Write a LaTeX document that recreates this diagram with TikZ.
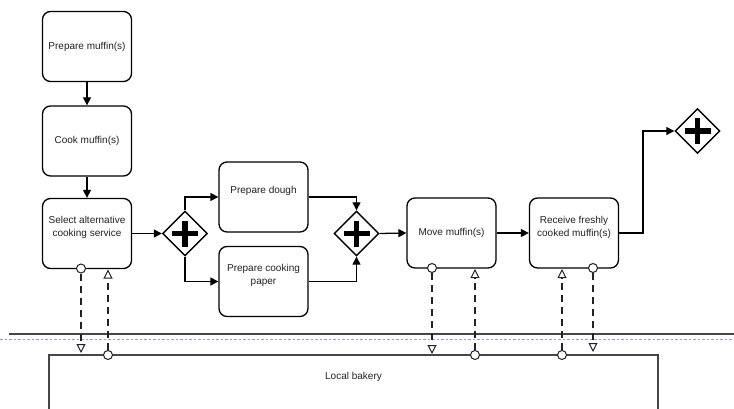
\documentclass[tikz,border=0pt]{standalone}
\usepackage{fontspec}
\setmainfont{Liberation Sans}
\usetikzlibrary{shapes.geometric,arrows.meta}
\definecolor{ink}{RGB}{34,34,34}
\definecolor{poolgray}{RGB}{70,70,70}
\definecolor{pagebreak}{RGB}{150,150,255}
\begin{document}
\begin{tikzpicture}[x=1pt,y=-1pt,
  font=\fontsize{10}{13}\selectfont,
  task/.style={draw=black, line width=1.3pt, rounded corners=8pt, minimum width=89pt, minimum height=70pt, inner sep=0pt, fill=white},
  lbl/.style={align=center, text=ink, inner sep=0pt, font=\fontsize{10}{13}\selectfont},
  gw/.style={diamond, draw=black, line width=1.4pt, minimum width=45pt, minimum height=45pt, inner sep=0pt, fill=white,
    path picture={\draw[line width=5.5pt] (path picture bounding box.center) +(-13,0) -- +(13,0) +(0,-13) -- +(0,13);}},
  flow/.style={draw=black, line width=1.3pt, -{Triangle[length=8pt,width=8pt]}},
  msg/.style={draw=ink, line width=1.1pt, dash pattern=on 7pt off 5pt, -{Triangle[open,length=9pt,width=9pt,line width=1pt]}},
  port/.style={circle, draw=ink, fill=white, line width=1pt, minimum size=9pt, inner sep=0pt},
  pool/.style={draw=poolgray, line width=2pt},
  bakery/.style={draw=poolgray, line width=2pt, minimum width=609pt, minimum height=85pt, inner sep=0pt}
]
\useasboundingbox (0,0) rectangle (734,409);

% pool boundary and page break line
\draw[pool] (9,334) -- (734,334);
\draw[draw=pagebreak, line width=1pt, dash pattern=on 2.5pt off 2pt] (0,339.5) -- (734,339.5);
\node[bakery, label={[lbl,anchor=center,yshift=-23pt]north:Local bakery}] (bk) at (353.5,397.5) {};

% tasks
\node[task, label={[lbl]center:Prepare muffin(s)}] (pm) at (87,46.5) {};
\node[task, label={[lbl]center:Cook muffin(s)}] (cm) at (87,141) {};
\node[task, label={[lbl,yshift=6.5pt]center:Select alternative\\cooking service}] (sel) at (87,233.5) {};
\node[task, label={[lbl,yshift=6pt]center:Prepare dough}] (pd) at (263.5,197) {};
\node[task, label={[lbl,yshift=6pt]center:Prepare cooking\\paper}] (pp) at (263.5,281.5) {};
\node[task, label={[lbl]center:Move muffin(s)}] (mv) at (451.5,233) {};
\node[task, label={[lbl,yshift=6pt]center:Receive freshly\\cooked muffin(s)}] (rc) at (574,233) {};

% gateways
\node[gw] (g1) at (185,233.5) {};
\node[gw] (g2) at (356.5,233.5) {};
\node[gw] (g3) at (697.5,131) {};

% sequence flows
\draw[flow] (pm) -- (cm);
\draw[flow] (cm) -- (sel);
\draw[flow] (sel.east) -- (g1.west);
\draw[flow] (g1.north) |- (pd.west);
\draw[flow] (g1.south) |- (pp.west);
\draw[flow] (pd.east) -| (g2.north);
\draw[flow] (pp.east) -| (g2.south);
\draw[flow] (g2.east) -- (mv.west);
\draw[flow] (mv.east) -- (rc.west);
\coordinate (k) at (643,233);
\draw[flow] (rc.east) -- (k) |- (g3.west);

% message flow ports
\node[port] (s1) at (81,268.5) {};
\node[port] (b1) at (108,355) {};
\node[port] (s2) at (432,268) {};
\node[port] (b2) at (475,355) {};
\node[port] (b3) at (562,355) {};
\node[port] (s3) at (593,268) {};
\coordinate (t1) at (81,353);
\coordinate (t2) at (108,269.5);
\coordinate (t3) at (432,354);
\coordinate (t4) at (475,269);
\coordinate (t5) at (562,269);
\coordinate (t6) at (593,352);

% message flows
\draw[msg] (s1.south) -- (t1);
\draw[msg] (b1.north) -- (t2);
\draw[msg] (s2.south) -- (t3);
\draw[msg] (b2.north) -- (t4);
\draw[msg] (b3.north) -- (t5);
\draw[msg] (s3.south) -- (t6);
\end{tikzpicture}
\end{document}
